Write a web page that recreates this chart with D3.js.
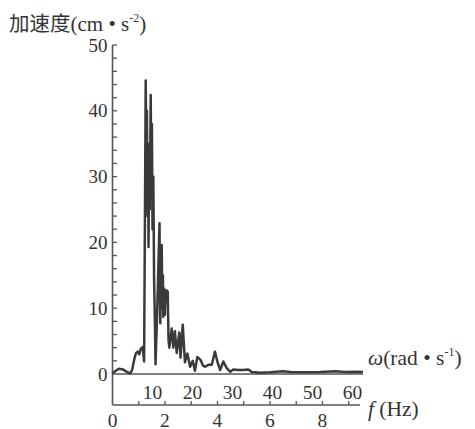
<!DOCTYPE html>
<html>
<head>
<meta charset="utf-8">
<script src="https://cdn.jsdelivr.net/npm/d3@7"></script>
<style>
html,body{margin:0;padding:0;background:#fff;}
svg{display:block;}
</style>
</head>
<body>
<svg id="chart" width="475" height="429"></svg>
<script>
// ---- data ----
const omega = [0,0.6,1.6,2.6,3.6,4.4,4.9,5.5,5.9,6.3,6.7,7.05,7.55,7.9,8.3,8.45,8.6,8.75,8.9,9.0,9.15,9.3,9.55,9.7,9.85,10.0,10.2,10.4,10.6,10.75,11.1,11.45,11.75,11.85,11.95,12.1,12.3,12.45,12.6,12.7,12.9,13.1,13.25,13.4,13.6,13.8,14.0,14.2,14.8,15.2,15.6,16.05,16.7,17.0,17.55,18.1,18.7,19.4,20.05,20.6,21.2,22.05,22.6,23.1,24.0,24.8,25.6,26.2,26.9,27.7,28.55,29.4,30.2,31.45,32.7,33.95,34.8,36.9,39.4,42.6,44.4,46.9,51.9,55.6,58.1,60.6,62.6];
const accel = [0.1,0.4,0.8,0.7,0.3,0.1,0.6,2.4,3.2,3.4,3.0,3.8,4.1,1.9,44.6,32,40,24,35,19.3,33,25,42.4,28,38,22,30,14,8,1.5,8,16,22.9,12,7.7,16,19.6,10,15,8.7,13,9,12.7,11,12.7,12.5,5.2,4.0,6.9,4.0,6.5,3.2,6.3,2.5,7.5,1.8,3.1,1.1,2.0,0.5,2.6,2.1,1.3,1.1,1.4,1.4,3.4,1.9,0.6,1.9,0.9,0.35,0.7,0.6,0.6,0.7,0.3,0.2,0.25,0.4,0.3,0.25,0.3,0.4,0.3,0.35,0.3];
const yTicks = [0,10,20,30,40,50];
const omegaTicks = [10,20,30,40,50,60];
const fTicks = [0,2,4,6,8];
const fMinorTicks = [1,2,3,4,5,6,7,8,9];
const yMinorTicks = d3.range(2,51,2);

const svg = d3.select('#chart');
const serif = '"Liberation Serif","DejaVu Serif",serif';
const cjk = '"Noto Sans CJK SC",sans-serif';
const axisColor = '#555';
const textColor = '#333';

const x = d3.scaleLinear().domain([0,62.6]).range([112.5,363]);
const xf = d3.scaleLinear().domain([0,9.43]).range([112.5,360]);
const y = d3.scaleLinear().domain([0,50]).range([374,45]);
const fAxisY = 405;

// y axis line (extends down to f axis)
svg.append('line').attr('x1',x(0)).attr('x2',x(0)).attr('y1',y(50)).attr('y2',fAxisY)
  .attr('stroke',axisColor).attr('stroke-width',1.6);
// y ticks
svg.selectAll('.ytk').data(yMinorTicks).join('line')
  .attr('x1',x(0)).attr('x2',x(0)+4.5).attr('y1',d=>y(d)).attr('y2',d=>y(d))
  .attr('stroke',axisColor).attr('stroke-width',1.3);
svg.selectAll('.ylab').data(yTicks).join('text')
  .attr('x',x(0)-5).attr('y',d=>y(d)+6.5).attr('text-anchor','end')
  .attr('font-family',serif).attr('font-size',19).attr('fill',textColor).text(d=>d);

// omega axis
svg.append('line').attr('x1',x(0)).attr('x2',x.range()[1]).attr('y1',y(0)).attr('y2',y(0))
  .attr('stroke',axisColor).attr('stroke-width',1.6);
svg.selectAll('.wlab').data(omegaTicks).join('text')
  .attr('x',d=>x(d)).attr('y',398.5).attr('text-anchor','middle')
  .attr('font-family',serif).attr('font-size',19.5).attr('fill',textColor).text(d=>d);

// f axis
svg.append('line').attr('x1',xf(0)).attr('x2',xf.range()[1]).attr('y1',fAxisY).attr('y2',fAxisY)
  .attr('stroke',axisColor).attr('stroke-width',1.6);
svg.selectAll('.ftk').data(fMinorTicks).join('line')
  .attr('x1',d=>xf(d)).attr('x2',d=>xf(d)).attr('y1',fAxisY).attr('y2',fAxisY-4)
  .attr('stroke',axisColor).attr('stroke-width',1.3);
svg.selectAll('.flab').data(fTicks).join('text')
  .attr('x',d=>xf(d)).attr('y',426.5).attr('text-anchor','middle')
  .attr('font-family',serif).attr('font-size',19.5).attr('fill',textColor).text(d=>d);

// data line
const pts = omega.map((w,i)=>[w,accel[i]]);
svg.append('path').datum(pts)
  .attr('d',d3.line().x(d=>x(d[0])).y(d=>y(d[1])))
  .attr('fill','none').attr('stroke','#3a3a3a').attr('stroke-width',2.5)
  .attr('stroke-linejoin','round');

// y title
const t = svg.append('text').attr('x',9).attr('y',31).attr('fill',textColor).attr('font-size',21);
t.append('tspan').attr('font-family',cjk).attr('font-size',20.5).text('加速度');
t.append('tspan').attr('font-family',serif).text('(cm • s');
t.append('tspan').attr('font-family',serif).attr('font-size',12).attr('dy',-9).text('-2');
t.append('tspan').attr('font-family',serif).attr('dy',9).text(')');

// omega label
const wl = svg.append('text').attr('x',368).attr('y',365).attr('fill',textColor).attr('font-size',21.5).attr('font-family',serif);
wl.append('tspan').attr('font-style','italic').text('ω');
wl.append('tspan').text('(rad • s');
wl.append('tspan').attr('font-size',12).attr('dy',-9).text('-1');
wl.append('tspan').attr('dy',9).text(')');

// f label
const fl = svg.append('text').attr('x',368).attr('y',416).attr('fill',textColor).attr('font-size',21.5).attr('font-family',serif);
fl.append('tspan').attr('font-style','italic').text('f');
fl.append('tspan').text(' (Hz)');
</script>
</body>
</html>
